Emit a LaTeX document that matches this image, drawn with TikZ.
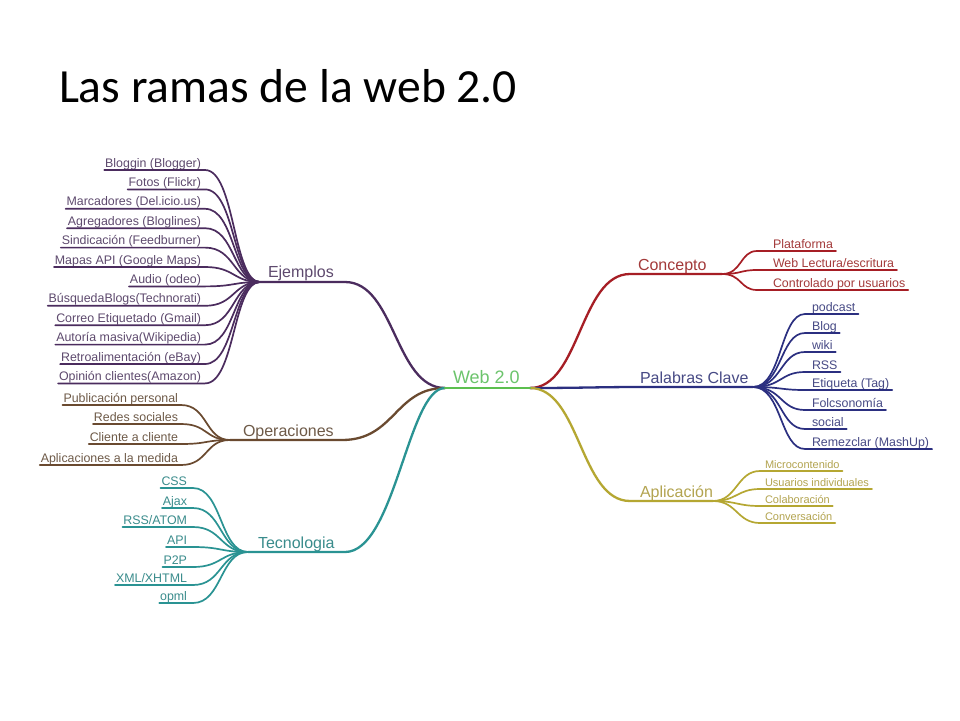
\documentclass[tikz,border=0pt]{standalone}
\usepackage{fontspec}
\setmainfont{Liberation Sans}
\newfontfamily\titlefont{Carlito}
\definecolor{ejline}{HTML}{4B2C5E}
\definecolor{ejtxt}{HTML}{5E4A6E}
\definecolor{opline}{HTML}{6A4A30}
\definecolor{optxt}{HTML}{6E5A48}
\definecolor{teline}{HTML}{2A9393}
\definecolor{tetxt}{HTML}{3A8C8C}
\definecolor{coline}{HTML}{A61E25}
\definecolor{cotxt}{HTML}{A33A3A}
\definecolor{pcline}{HTML}{2B2F80}
\definecolor{pctxt}{HTML}{474A85}
\definecolor{apline}{HTML}{B5A732}
\definecolor{aptxt}{HTML}{B3A450}
\definecolor{webline}{HTML}{5CBF4F}
\definecolor{webtxt}{HTML}{6CC46C}
\begin{document}
\begin{tikzpicture}[x=1pt,y=-1pt,
  every node/.style={inner sep=0pt, outer sep=0pt},
  leafE/.style={anchor=base east, font=\fontsize{12.4}{14}\selectfont},
  leafW/.style={anchor=base west, font=\fontsize{12.4}{14}\selectfont},
  leafS/.style={anchor=base west, font=\fontsize{11}{13}\selectfont},
  mainnode/.style={anchor=base west, font=\fontsize{16}{19}\selectfont},
  mainline/.style={line width=2.3pt, line cap=round},
  leafline/.style={line width=1.7pt, line cap=round}]
\fill[white] (0,0) rectangle (960,720);
\useasboundingbox (0,0) rectangle (960,720);

% title
\node[anchor=base west, font=\titlefont\fontsize{47.6}{52}\selectfont] (title) at (59,102) {Las ramas de la web 2.0};

% centre
\node[anchor=base west, font=\fontsize{18}{21}\selectfont, text=webtxt] (web) at (453,383) {Web 2.0};
\coordinate (wl) at (445,388);
\coordinate (wr) at (530,388);

% ---------- Ejemplos ----------
\node[mainnode, text=ejtxt] (ej) at (268,277) {Ejemplos};
\coordinate (ejhub) at (260,282);
\coordinate (ejend) at (345,282);
\draw[mainline, ejline] (ejhub) -- (ejend) .. controls (395,282) and (395,388) .. (wl);
\foreach \i/\t in {0/Bloggin (Blogger),1/Fotos (Flickr),2/Marcadores (Del.icio.us),
  3/Agregadores (Bloglines),4/Sindicación (Feedburner),5/Mapas API (Google Maps),
  6/Audio (odeo),7/BúsquedaBlogs(Technorati),8/Correo Etiquetado (Gmail),
  9/Autoría masiva(Wikipedia),10/Retroalimentación (eBay),11/Opinión clientes(Amazon)}{
  \pgfmathsetmacro\uy{170+19.4*\i}
  \node[leafE, text=ejtxt] (ej\i) at (201,\uy-3) {\t};
  \draw[leafline, ejline] ([shift={(-1,3)}]ej\i.base west) -- (205,\uy)
     .. controls (235,\uy) and (233,282) .. (ejhub);
}

% ---------- Operaciones ----------
\node[mainnode, text=optxt] (op) at (243,436) {Operaciones};
\coordinate (ophub) at (230,440);
\coordinate (opend) at (342,440);
\draw[mainline, opline] (ophub) -- (opend) .. controls (395,440) and (395,388) .. (wl);
\foreach \i/\y/\t in {0/405/Publicación personal,1/424/Redes sociales,
  2/444/Cliente a cliente,3/465/Aplicaciones a la medida}{
  \node[leafE, text=optxt] (op\i) at (178,\y-3) {\t};
  \draw[leafline, opline] ([shift={(-1,3)}]op\i.base west) -- (181,\y)
     .. controls (208,\y) and (205,440) .. (ophub);
}

% ---------- Tecnologia ----------
\node[mainnode, text=tetxt] (te) at (258,548) {Tecnologia};
\coordinate (tehub) at (248,552);
\coordinate (teend) at (345,552);
\draw[mainline, teline] (tehub) -- (teend) .. controls (395,552) and (408,388) .. (wl);
\foreach \i/\y/\t in {0/488/CSS,1/508/Ajax,2/527/{RSS/ATOM},3/547/API,
  4/567/P2P,5/585/{XML/XHTML},6/603/opml}{
  \node[leafE, text=tetxt] (te\i) at (187,\y-3) {\t};
  \draw[leafline, teline] ([shift={(-1,3)}]te\i.base west) -- (193,\y)
     .. controls (222,\y) and (220,552) .. (tehub);
}

% ---------- Concepto ----------
\node[mainnode, text=cotxt] (co) at (638,270) {Concepto};
\coordinate (costart) at (630,274);
\coordinate (cohub) at (722,274);
\draw[mainline, coline] (wr) .. controls (580,388) and (580,274) .. (costart) -- (cohub);
\foreach \i/\y/\t in {0/251/Plataforma,1/270/{Web Lectura/escritura},2/290/Controlado por usuarios}{
  \node[leafW, text=cotxt] (co\i) at (773,\y-3) {\t};
  \draw[leafline, coline] (cohub) .. controls (742,274) and (740,\y) .. (757,\y)
     -- ([shift={(3,3)}]co\i.base east);
}

% ---------- Palabras Clave ----------
\node[mainnode, text=pctxt] (pc) at (640,383) {Palabras Clave};
\coordinate (pchub) at (753,387);
\draw[mainline, pcline] (wr) .. controls (580,388) and (600,387) .. (640,387) -- (pchub);
\foreach \i/\y/\t in {0/314/podcast,1/333/Blog,2/352/wiki,3/372/RSS,
  4/390/Etiqueta (Tag),5/410/Folcsonomía,6/429/social,7/449/Remezclar (MashUp)}{
  \node[leafW, text=pctxt] (pc\i) at (812,\y-3) {\t};
  \draw[leafline, pcline] (pchub) .. controls (782,387) and (780,\y) .. (805,\y)
     -- ([shift={(3,3)}]pc\i.base east);
}

% ---------- Aplicación ----------
\node[mainnode, text=aptxt] (ap) at (640,497) {Aplicación};
\coordinate (apstart) at (630,501);
\coordinate (aphub) at (713,501);
\draw[mainline, apline] (wr) .. controls (580,388) and (580,501) .. (apstart) -- (aphub);
\foreach \i/\y/\t in {0/471/Microcontenido,1/489/Usuarios individuales,
  2/506/Colaboración,3/523/Conversación}{
  \node[leafS, text=aptxt] (ap\i) at (765,\y-3) {\t};
  \draw[leafline, apline] (aphub) .. controls (737,501) and (737,\y) .. (760,\y)
     -- ([shift={(3,3)}]ap\i.base east);
}

% centre underline on top
\draw[mainline, webline] (wl) -- (wr);
\end{tikzpicture}
\end{document}
